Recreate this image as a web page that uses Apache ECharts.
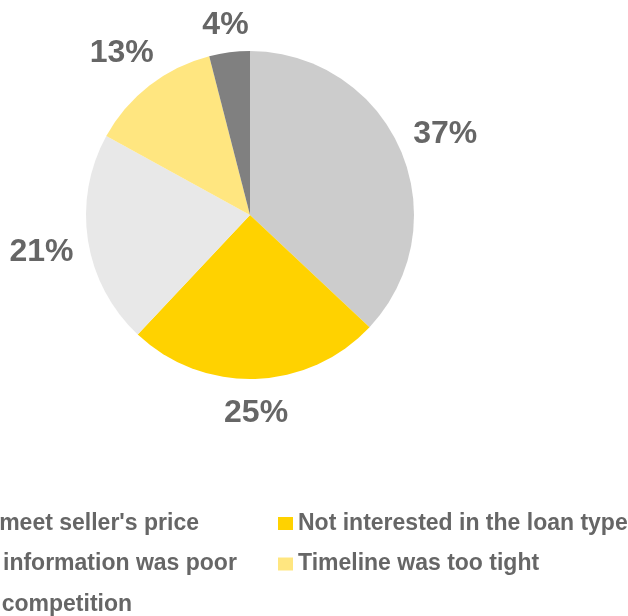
<!DOCTYPE html>
<html>
<head>
<meta charset="utf-8">
<script src="https://cdn.jsdelivr.net/npm/echarts@6/dist/echarts.min.js"></script>
<style>
  html, body { margin: 0; padding: 0; background: #ffffff; }
  #chart { width: 628px; height: 616px; }
</style>
</head>
<body>
<div id="chart"></div>
<script>
// Reasons given, in slice order (clockwise from 12 o'clock)
var categories = [
  "Unable to meet seller's price",
  "Not interested in the loan type",
  "Financing information was poor",
  "Timeline was too tight",
  "Outbid by competition"
];
var shares = [37, 25, 21, 13, 4];
var sliceColors = ['#cccccc', '#ffd200', '#e8e8e8', '#ffe680', '#808080'];

// Legend columns (left column runs past the left edge of the page)
var legendLeftColumn = [categories[0], categories[2], categories[4]];
var legendRightColumn = [categories[1], categories[3]];

var CX = 250, CY = 215, R = 164, LABEL_GAP = 13, LABEL_DROP = 4;
var FONT = "'Liberation Sans', Arial, sans-serif";
var TEXT_COLOR = '#666666';

var total = shares.reduce(function (a, b) { return a + b; }, 0);
function midAngle(i) {
  var before = 0;
  for (var k = 0; k < i; k++) before += shares[k];
  return (before + shares[i] / 2) / total * Math.PI * 2; // clockwise from top
}

var chart = echarts.init(document.getElementById('chart'), null, { renderer: 'canvas' });

var legendCommon = {
  orient: 'vertical',
  top: 507,
  height: 200,
  icon: 'rect',
  itemWidth: 15,
  itemHeight: 13,
  itemGap: 17.5,
  selectedMode: false,
  textStyle: { fontFamily: FONT, fontSize: 23, fontWeight: 'bold', color: TEXT_COLOR }
};

chart.setOption({
  animation: false,
  backgroundColor: '#ffffff',
  legend: [
    Object.assign({}, legendCommon, { left: -137, data: legendLeftColumn }),
    Object.assign({}, legendCommon, { left: 273, data: legendRightColumn })
  ],
  series: [{
    type: 'pie',
    center: [CX, CY],
    radius: [0, R],
    startAngle: 90,
    clockwise: true,
    avoidLabelOverlap: false,
    silent: true,
    itemStyle: { borderWidth: 0 },
    label: {
      show: true,
      position: 'outside',
      formatter: '{c}%',
      fontFamily: FONT,
      fontSize: 32,
      fontWeight: 'bold',
      color: TEXT_COLOR
    },
    labelLine: { show: false },
    labelLayout: function (p) {
      var a = midAngle(p.dataIndex);
      var w = p.labelRect.width, h = p.labelRect.height;
      var s = Math.sin(a), c = Math.cos(a);
      var d = R + LABEL_GAP + Math.abs(s) * w / 2 + Math.abs(c) * h / 2;
      return {
        x: CX + d * s,
        y: CY - d * c + LABEL_DROP,
        align: 'center',
        verticalAlign: 'middle'
      };
    },
    data: categories.map(function (name, i) {
      return { name: name, value: shares[i], itemStyle: { color: sliceColors[i] } };
    })
  }]
});
</script>
</body>
</html>
